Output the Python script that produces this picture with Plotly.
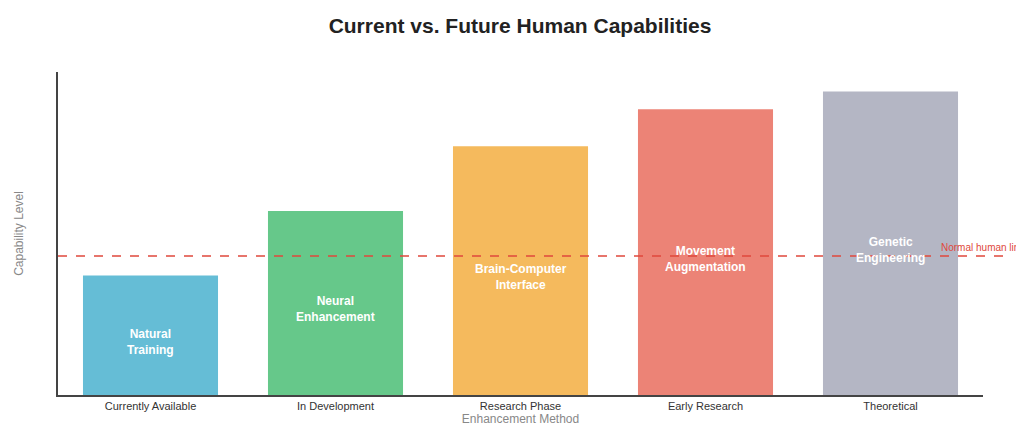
import plotly.graph_objects as go

categories = ["Currently Available", "In Development", "Research Phase", "Early Research", "Theoretical"]
labels = ["Natural<br>Training", "Neural<br>Enhancement", "Brain-Computer<br>Interface", "Movement<br>Augmentation", "Genetic<br>Engineering"]
values = [37, 57, 77, 88.5, 94]
colors = ["#65bdd6", "#66c88a", "#f5ba5d", "#ec8376", "#b4b6c4"]
human_limit = 43

fig = go.Figure(go.Bar(x=categories, y=values, marker_color=colors, marker_line_width=0,
                       hoverinfo="skip"))
for c, l, v in zip(categories, labels, values):
    fig.add_annotation(x=c, y=v / 2 - 2, text="<b>" + l + "</b>", showarrow=False,
                       font=dict(color="white", size=12, family="Liberation Sans"))
fig.add_shape(type="line", xref="paper", x0=0, x1=1.03, y0=human_limit, y1=human_limit,
              line=dict(color="#e0483c", width=1.5, dash="dash"))
fig.add_annotation(xref="paper", x=0.952, y=human_limit, text="Normal human limit", showarrow=False,
                   xanchor="left", yanchor="bottom", yshift=1, font=dict(color="#e0483c", size=10))
fig.update_layout(
    width=1024, height=426, plot_bgcolor="white", paper_bgcolor="white",
    margin=dict(l=48, r=49, t=64, b=36),
    title=dict(text="<b>Current vs. Future Human Capabilities</b>", x=0.5, y=0.975,
               font=dict(size=21, color="#222", family="Liberation Sans")),
    bargap=0.27, showlegend=False,
    font=dict(family="Liberation Sans"),
)
fig.update_xaxes(showline=True, linecolor="#444", linewidth=1.5, ticks="",
                 tickfont=dict(size=11, color="#333"),
                 title=dict(text="Enhancement Method", font=dict(size=12, color="#888"), standoff=2))
fig.update_yaxes(range=[0, 100], showline=True, linecolor="#444", linewidth=1.5, showgrid=False,
                 showticklabels=False, ticks="", zeroline=False,
                 title=dict(text="Capability Level", font=dict(size=12, color="#888"), standoff=30))
fig.write_html("out.html")
